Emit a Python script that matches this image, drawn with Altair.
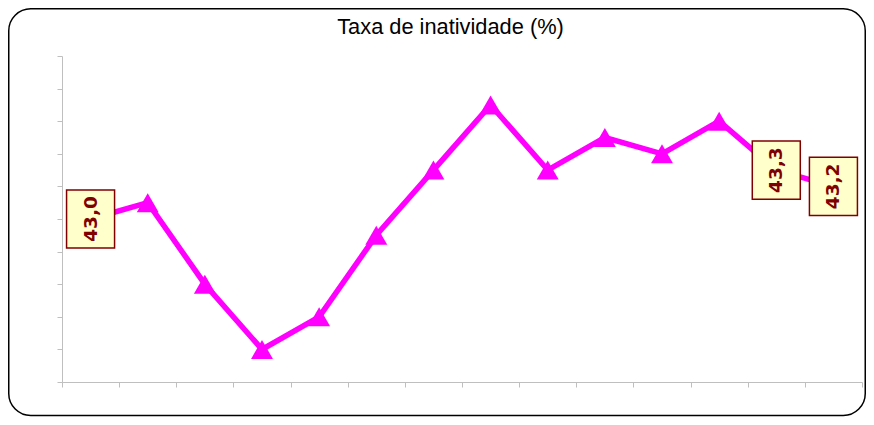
import altair as alt
import pandas as pd

periods = [str(i) for i in range(1, 15)]
rates = [43.0, 43.1, 42.6, 42.2, 42.4, 42.9, 43.3, 43.7, 43.3, 43.5, 43.4, 43.6, 43.3, 43.2]
point_labels = ["43,0", "", "", "", "", "", "", "", "", "", "", "", "43,3", "43,2"]
y_ticks = [42.0, 42.2, 42.4, 42.6, 42.8, 43.0, 43.2, 43.4, 43.6, 43.8, 44.0]
x_ticks = list(range(0, 15))
title_text = ["Taxa de inatividade (%)"]

df = pd.DataFrame({
    "period": periods,
    "pos": [i + 0.5 for i in range(len(periods))],
    "rate": rates,
    "label": point_labels,
})

MAGENTA = "#FF00FF"
AXIS_GRAY = "#BFBFBF"

x_enc = alt.X("pos:Q", scale=alt.Scale(domain=[0, 14], nice=False, zero=False),
              axis=alt.Axis(values=x_ticks, tickCount=30, labels=False, title=None, grid=False,
                            tickSize=5, domainColor=AXIS_GRAY, tickColor=AXIS_GRAY))
y_enc = alt.Y("rate:Q", scale=alt.Scale(domain=[42, 44], nice=False, zero=False),
              axis=alt.Axis(values=y_ticks, tickCount=30, labels=False, title=None, grid=False,
                            tickSize=5, domainColor=AXIS_GRAY, tickColor=AXIS_GRAY))

base = alt.Chart(df)

line = base.mark_line(color=MAGENTA, strokeWidth=5.5).encode(x=x_enc, y=y_enc)
pts = base.mark_point(shape="triangle-up", filled=True, color=MAGENTA, size=480, opacity=1).encode(
    x=alt.X("pos:Q"), y=alt.Y("rate:Q"))

lab = base.transform_filter(alt.datum.label != "")
box = lab.mark_point(
    shape="M-1,-1.21L1,-1.21L1,1.21L-1,1.21Z", size=2304, filled=True,
    fill="#FFFFCC", stroke="#800000", strokeWidth=1.5, opacity=1
).encode(x=alt.X("pos:Q"), y=alt.Y("rate:Q"))
txt = lab.mark_text(angle=270, font="DejaVu Sans", fontWeight="bold", fontSize=18.5,
                    color="#800000", align="center", baseline="middle").encode(
    x=alt.X("pos:Q"), y=alt.Y("rate:Q"), text="label:N")

border = alt.Chart(pd.DataFrame({"a": [0]})).mark_rect(
    cornerRadius=22, fill="white", fillOpacity=0, stroke="black", strokeWidth=1.5
).encode(x=alt.value(-53.25), x2=alt.value(803.25), y=alt.value(-47.25), y2=alt.value(359.5))

title = alt.Chart(pd.DataFrame({"t": title_text})).mark_text(
    font="Liberation Sans", fontSize=21.8, color="black", align="center", baseline="alphabetic"
).encode(x=alt.value(388.5), y=alt.value(-22.5), text="t:N")

chart = alt.layer(border, line, pts, box, txt, title).properties(
    width=800, height=326,
    padding={"left": 54, "top": 48, "right": 4, "bottom": 35},
    autosize=alt.AutoSizeParams(type="none"),
).configure(background="white").configure_view(stroke=None)

chart.save("out.html", embed_options={"renderer": "svg", "actions": False})
